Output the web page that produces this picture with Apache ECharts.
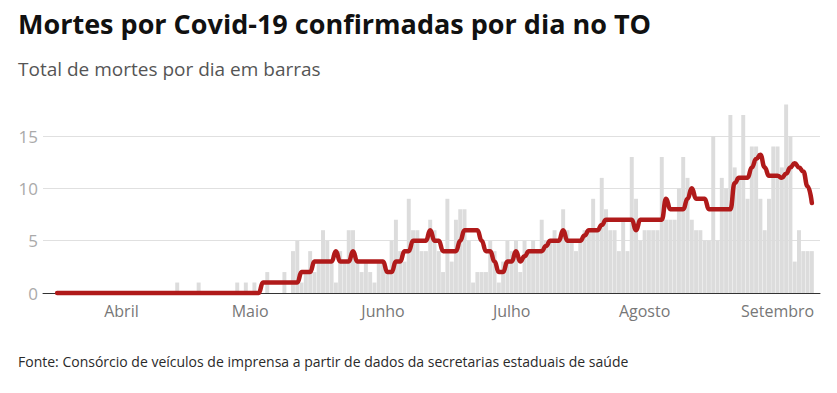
<!DOCTYPE html>
<html><head><meta charset="utf-8">
<script src="https://cdn.jsdelivr.net/npm/echarts@6/dist/echarts.min.js"></script>
<style>html,body{margin:0;padding:0;background:#fff}#c{width:837px;height:393px}</style>
</head><body><div id="c"></div>
<script>
const titleText = 'Mortes por Covid-19 confirmadas por dia no TO';
const subtitleText = 'Total de mortes por dia em barras';
const sourceText = 'Fonte: Consórcio de veículos de imprensa a partir de dados da secretarias estaduais de saúde';

const startDate = '2020-03-17';
const dayCount = 177;
const monthNames = ['Janeiro','Fevereiro','Março','Abril','Maio','Junho','Julho','Agosto','Setembro','Outubro','Novembro','Dezembro'];
const yTicks = [0, 5, 10, 15];

const dailyDeaths = [
  0,0,0,0,0,0,0,0,0,0,
  0,0,0,0,0,0,0,0,0,0,
  0,0,0,0,0,0,0,0,1,0,
  0,0,0,1,0,0,0,0,0,0,
  0,0,1,0,1,0,1,0,0,2,
  0,0,0,2,0,4,5,1,2,4,
  2,3,6,5,3,1,4,3,6,6,
  3,2,3,2,1,3,3,2,5,7,
  4,3,9,6,6,4,4,7,6,4,
  2,9,3,7,8,8,5,1,2,2,
  2,5,4,1,3,5,4,5,2,5,
  4,5,4,7,5,5,6,5,8,6,
  5,4,5,6,6,9,6,11,8,6,
  6,4,7,4,13,9,5,6,6,6,
  6,13,7,7,7,10,13,11,7,6,
  6,5,5,15,5,11,10,17,12,11,
  17,9,14,14,9,6,9,14,14,12,
  18,15,3,6,4,4,4
];

const movingAverage = [
  0,0,0,0,0,0,0,0,0,0,
  0,0,0,0,0,0,0,0,0,0,
  0,0,0,0,0,0,0,0,0,0,
  0,0,0,0,0,0,0,0,0,0,
  0,0,0,0,0,0,0,0,1,1,
  1,1,1,1,1,1,1,2,2,2,
  3,3,3,3,3,4,3,3,3,4,
  3,3,3,3,3,3,3,2,2,3,
  3,4,4,5,5,5,5,6,5,5,
  4,4,4,4,5,6,6,6,6,5,
  4,4,3,2,2,3,3,4,3,3.5,
  4,4,4,4,4.5,5,5,5,6,5,
  5,5,5,5.5,6,6,6,6.5,7,7,
  7,7,7,7,7,6,7,7,7,7,
  7,7,9,8,8,8,8,9,10,9,
  9,9,8,8,8,8,8,8,10.5,11,
  11,11,12,12.8,13.2,12,11.2,11.2,11.2,11,
  11.4,12,12.4,12,11.6,10.2,8.6
];

// daily category labels (one per day, starting at startDate)
const days = [];
{
  const d0 = new Date(startDate + 'T00:00:00Z');
  for (let i = 0; i < dayCount; i++) {
    const d = new Date(d0.getTime() + i * 86400000);
    days.push(d.toISOString().slice(0, 10));
  }
}

const FONT = '"Open Sans", "Noto Sans", sans-serif';
const chart = echarts.init(document.getElementById('c'), null, {renderer: 'svg'});
chart.setOption({
  animation: false,
  backgroundColor: '#fff',
  title: [
    {text: titleText, left: 18, top: 10, padding: 0,
     textStyle: {fontFamily: FONT, fontWeight: 'bold', fontSize: 27, color: '#111'}},
    {text: subtitleText, left: 18, top: 59, padding: 0,
     textStyle: {fontFamily: FONT, fontWeight: 'normal', fontSize: 19, color: '#555'}},
    {text: sourceText, left: 18, top: 354, padding: 0,
     textStyle: {fontFamily: FONT, fontWeight: 'normal', fontSize: 14, color: '#2a2a2a'}}
  ],
  grid: [
    {left: 43, right: 17, top: 136, bottom: 100},
    {left: 55, right: 23, top: 136, bottom: 100}
  ],
  xAxis: [
    {gridIndex: 0, type: 'value', min: 0, max: 1, show: true,
     axisLine: {show: true, onZero: false, lineStyle: {color: '#333', width: 1}},
     axisTick: {show: false}, axisLabel: {show: false}, splitLine: {show: false}},
    {gridIndex: 1, type: 'category', data: days, boundaryGap: true,
     axisLine: {show: false}, axisTick: {show: false},
     axisLabel: {
       margin: 10, fontFamily: FONT, fontSize: 16, color: '#777',
       interval: (idx, val) => val.slice(8, 10) === '01',
       formatter: (val) => monthNames[parseInt(val.slice(5, 7), 10) - 1]
     }}
  ],
  yAxis: [
    {gridIndex: 0, type: 'value', min: yTicks[0], max: yTicks[yTicks.length - 1], interval: 5,
     axisLine: {show: false}, axisTick: {show: false},
     axisLabel: {margin: 5, fontFamily: FONT, fontSize: 17, color: '#aaa'},
     splitLine: {show: true, lineStyle: {color: '#e0e0e0', width: 1}}},
    {gridIndex: 1, type: 'value', min: yTicks[0], max: yTicks[yTicks.length - 1], show: false,
     splitLine: {show: false}}
  ],
  series: [
    {type: 'bar', xAxisIndex: 1, yAxisIndex: 1, data: dailyDeaths, clip: false,
     barCategoryGap: '8%', itemStyle: {color: '#dcdcdc'}, silent: true},
    {type: 'line', xAxisIndex: 1, yAxisIndex: 1, data: movingAverage, clip: false,
     smooth: 0.5, smoothMonotone: 'x', showSymbol: false,
     lineStyle: {color: '#b01a1a', width: 4.5, cap: 'round', join: 'round'}, silent: true}
  ]
});
</script></body></html>
